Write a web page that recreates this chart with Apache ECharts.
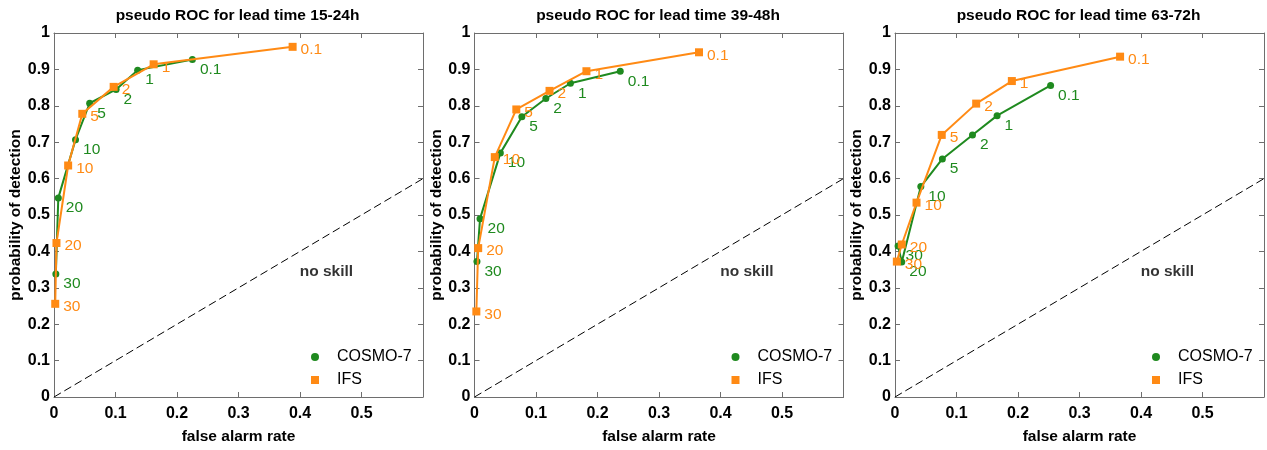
<!DOCTYPE html>
<html><head><meta charset="utf-8">
<script src="https://cdn.jsdelivr.net/npm/echarts@6/dist/echarts.min.js"></script>
<style>html,body{margin:0;padding:0;background:#fff}#c{width:1267px;height:450px}</style>
</head><body><div id="c"></div><script>
// ---- data ----
const titles = ['pseudo ROC for lead time 15-24h', 'pseudo ROC for lead time 39-48h', 'pseudo ROC for lead time 63-72h'];
const thresholds = ['0.1', '1', '2', '5', '10', '20', '30'];
const xTicks = [0, 0.1, 0.2, 0.3, 0.4, 0.5];
const yTicks = [0, 0.1, 0.2, 0.3, 0.4, 0.5, 0.6, 0.7, 0.8, 0.9, 1];

const cosmoFar1 = [0.225, 0.136, 0.101, 0.058, 0.035, 0.007, 0.003];
const cosmoPod1 = [0.927, 0.898, 0.845, 0.807, 0.707, 0.547, 0.338];
const ifsFar1   = [0.388, 0.162, 0.097, 0.046, 0.023, 0.004, 0.002];
const ifsPod1   = [0.962, 0.914, 0.852, 0.778, 0.636, 0.423, 0.256];

const cosmoFar2 = [0.237, 0.156, 0.116, 0.077, 0.042, 0.009, 0.004];
const cosmoPod2 = [0.895, 0.862, 0.820, 0.770, 0.670, 0.490, 0.372];
const ifsFar2   = [0.365, 0.182, 0.122, 0.068, 0.033, 0.006, 0.003];
const ifsPod2   = [0.947, 0.895, 0.841, 0.790, 0.659, 0.409, 0.235];

const cosmoFar3 = [0.253, 0.166, 0.126, 0.077, 0.042, 0.011, 0.005];
const cosmoPod3 = [0.856, 0.773, 0.720, 0.654, 0.578, 0.371, 0.415];
const ifsFar3   = [0.366, 0.190, 0.132, 0.076, 0.035, 0.011, 0.003];
const ifsPod3   = [0.935, 0.868, 0.806, 0.720, 0.534, 0.419, 0.372];

const noSkillPos = [0.443, 0.344];
const diagonal = [[0, 0], [0.6, 0.6]];

// ---- styling / layout ----
const GREEN = '#1f8a1f', ORANGE = '#ff8a14';
const FONT = "'Liberation Sans', Arial, sans-serif";
const gridLefts = [54, 474.5, 895];
const GT = 33, GW = 369, GH = 366;

const panels = [
  [cosmoFar1, cosmoPod1, ifsFar1, ifsPod1],
  [cosmoFar2, cosmoPod2, ifsFar2, ifsPod2],
  [cosmoFar3, cosmoPod3, ifsFar3, ifsPod3]
];
const zip = (a, b) => a.map((v, i) => [v, b[i]]);
const fmt = v => String(+v.toFixed(1));

const grid = [], xAxis = [], yAxis = [], series = [], title = [], legend = [];
const axisLineStyle = { color: '#6e6e6e', width: 1 };
panels.forEach((p, i) => {
  const L = gridLefts[i];
  grid.push({ left: L, top: GT, width: GW, height: GH, show: false });
  title.push({ text: titles[i], left: L + GW / 2 - 1, top: 8, textAlign: 'center', padding: 0,
    textStyle: { fontFamily: FONT, fontSize: 15.5, fontWeight: 'bold', color: '#000' } });
  xAxis.push({ type: 'value', gridIndex: i, position: 'bottom', min: 0, max: 0.6, interval: 0.1,
    axisLine: { show: true, onZero: false, lineStyle: axisLineStyle },
    axisTick: { show: true, inside: true, length: 5, lineStyle: axisLineStyle },
    axisLabel: { margin: 9, fontFamily: FONT, fontSize: 16, fontWeight: 'bold', color: '#000',
      formatter: v => xTicks.some(t => Math.abs(t - v) < 1e-6) ? fmt(v) : '' },
    splitLine: { show: false },
    name: 'false alarm rate', nameLocation: 'middle', nameGap: 32,
    nameTextStyle: { fontFamily: FONT, fontSize: 15.5, fontWeight: 'bold', color: '#000' } });
  xAxis.push({ type: 'value', gridIndex: i, position: 'top', min: 0, max: 0.6, interval: 0.1,
    axisLine: { show: true, onZero: false, lineStyle: axisLineStyle },
    axisTick: { show: true, inside: true, length: 5, lineStyle: axisLineStyle },
    axisLabel: { show: false }, splitLine: { show: false } });
  yAxis.push({ type: 'value', gridIndex: i, position: 'left', min: 0, max: 1, interval: 0.1,
    axisLine: { show: true, onZero: false, lineStyle: axisLineStyle },
    axisTick: { show: true, inside: true, length: 5, lineStyle: axisLineStyle },
    axisLabel: { margin: 4, fontFamily: FONT, fontSize: 16, fontWeight: 'bold', color: '#000',
      formatter: v => yTicks.some(t => Math.abs(t - v) < 1e-6) ? fmt(v) : '' },
    splitLine: { show: false },
    name: 'probability of detection', nameLocation: 'middle', nameGap: 30,
    nameTextStyle: { fontFamily: FONT, fontSize: 15.5, fontWeight: 'bold', color: '#000' } });
  yAxis.push({ type: 'value', gridIndex: i, position: 'right', min: 0, max: 1, interval: 0.1,
    axisLine: { show: true, onZero: false, lineStyle: axisLineStyle },
    axisTick: { show: true, inside: true, length: 5, lineStyle: axisLineStyle },
    axisLabel: { show: false }, splitLine: { show: false } });

  const xi = i * 2, yi = i * 2;
  series.push({ type: 'line', xAxisIndex: xi, yAxisIndex: yi, data: diagonal, symbol: 'none', silent: true,
    lineStyle: { color: '#000', width: 1, type: [8, 4] }, z: 1 });
  series.push({ type: 'scatter', xAxisIndex: xi, yAxisIndex: yi, data: [noSkillPos], symbolSize: 0, silent: true,
    label: { show: true, position: 'inside', formatter: 'no skill', fontFamily: FONT, fontSize: 15.5,
      fontWeight: 'bold', color: '#000', textBorderWidth: 0 } });
  series.push({ type: 'line', name: 'COSMO-7', xAxisIndex: xi, yAxisIndex: yi, data: zip(p[0], p[1]),
    symbol: 'circle', symbolSize: 7, color: GREEN, lineStyle: { color: GREEN, width: 2 },
    itemStyle: { color: GREEN }, z: 3,
    label: { show: true, position: 'right', distance: 4, offset: [0, 10],
      formatter: d => thresholds[d.dataIndex], fontFamily: FONT, fontSize: 15.5, color: GREEN } });
  series.push({ type: 'line', name: 'IFS', xAxisIndex: xi, yAxisIndex: yi, data: zip(p[2], p[3]),
    symbol: 'rect', symbolSize: 8, color: ORANGE, lineStyle: { color: ORANGE, width: 2 },
    itemStyle: { color: ORANGE }, z: 4,
    label: { show: true, position: 'right', distance: 4, offset: [0, 3],
      formatter: d => thresholds[d.dataIndex], fontFamily: FONT, fontSize: 15.5, color: ORANGE } });

  legend.push({ orient: 'vertical', left: L + 257, top: 349, itemWidth: 8, itemHeight: 8, itemGap: 7,
    selectedMode: false, padding: 0,
    data: [{ name: 'COSMO-7', icon: 'circle' }, { name: 'IFS', icon: 'rect' }],
    textStyle: { fontFamily: FONT, fontSize: 16, color: '#000', lineHeight: 16, padding: [0, 0, 0, 13] } });
});

const chart = echarts.init(document.getElementById('c'), null, { renderer: 'canvas' });
chart.setOption({ animation: false, backgroundColor: '#fff', title, grid, xAxis, yAxis, series, legend });
</script></body></html>
